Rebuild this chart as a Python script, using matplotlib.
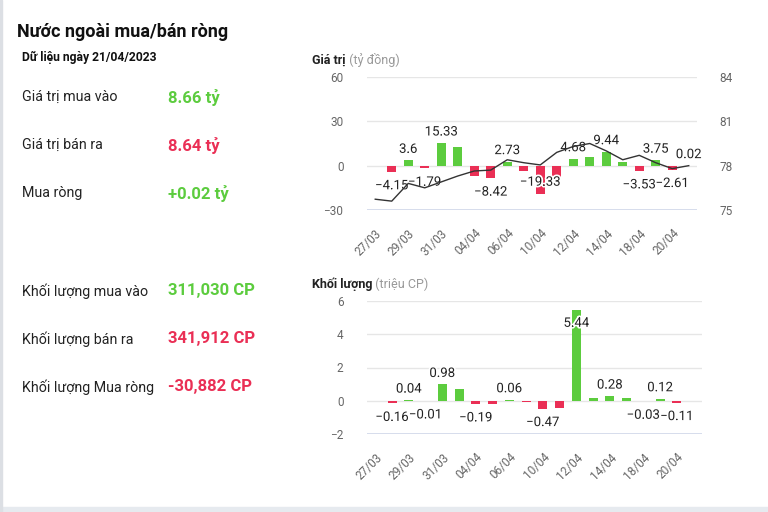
import matplotlib
matplotlib.use('Agg')
import matplotlib.pyplot as plt
import matplotlib.patheffects as pe
from matplotlib.patches import Rectangle

plt.rcParams['font.family'] = ['Roboto', 'DejaVu Sans']

# data
dates = ['27/03', '28/03', '29/03', '30/03', '31/03', '03/04', '04/04', '05/04',
         '06/04', '07/04', '10/04', '11/04', '12/04', '13/04', '14/04', '17/04',
         '18/04', '19/04', '20/04', '21/04']
value_net = [0, -4.15, 3.6, -1.79, 15.33, 12.6, -7.0, -8.42, 2.73, -3.8,
             -19.33, -12.0, 4.68, 5.8, 9.44, 2.7, -3.53, 3.75, -2.61, 0.02]
price = [75.73, 75.6, 76.8, 76.5, 76.9, 77.3, 77.64, 77.7, 78.4, 78.2,
         78.05, 78.9, 79.3, 79.5, 79.0, 78.4, 78.7, 78.2, 77.8, 78.0]
volume_net = [0, -0.16, 0.04, -0.01, 0.98, 0.73, -0.19, -0.2, 0.06, -0.06,
              -0.47, -0.41, 5.44, 0.19, 0.28, 0.15, -0.03, 0.12, -0.11, -0.03]
value_labels = [1, 2, 3, 4, 7, 8, 10, 12, 14, 16, 17, 18, 19]
volume_labels = [1, 2, 3, 4, 6, 8, 10, 12, 14, 16, 17, 18]

summary_rows = [
    ('Giá trị mua vào', '8.66 tỷ', 'g', 97),
    ('Giá trị bán ra', '8.64 tỷ', 'r', 145),
    ('Mua ròng', '+0.02 tỷ', 'g', 193),
    ('Khối lượng mua vào', '311,030 CP', 'g', 291),
    ('Khối lượng bán ra', '341,912 CP', 'r', 339),
    ('Khối lượng Mua ròng', '-30,882 CP', 'r', 387),
]

GREEN = '#5ccc3e'
RED = '#ea2f55'
W, H = 768, 512


def px(x, y):
    return x / W, 1 - y / H


def fmt(v):
    s = ('%.2f' % v).rstrip('0').rstrip('.')
    return s.replace('-', '\u2212')


def bar_panel(ax, vals, label_idx, ylim, yticks):
    x = list(range(len(vals)))
    colors = [GREEN if v >= 0 else RED for v in vals]
    ax.bar(x, vals, width=0.55, color=colors, zorder=2)
    ax.set_xlim(-0.5, len(vals) - 0.5)
    ax.set_ylim(*ylim)
    ax.set_yticks(yticks)
    ax.set_yticklabels([str(t).replace('-', '\u2212') for t in yticks])
    ax.grid(axis='y', color='#e6e6e6', lw=1, zorder=0)
    ax.axhline(ylim[0], color='#ccd6eb', lw=1.2, zorder=1)
    for s in ax.spines.values():
        s.set_visible(False)
    ax.tick_params(axis='both', length=0, labelsize=8.5, labelcolor='#666666')
    ax.tick_params(axis='y', pad=17)
    ax.set_xticks(x[::2])
    ax.set_xticklabels(dates[::2], rotation=45, ha='right',
                       rotation_mode='anchor')
    ax.tick_params(axis='x', pad=12)
    # data labels, flipped inside when they would leave the plot
    fig = ax.figure
    fig.canvas.draw()
    for i in label_idx:
        v = vals[i]
        yb = ax.transData.transform((i, v))[1]
        ytop = ax.transData.transform((i, ylim[1]))[1]
        ybot = ax.transData.transform((i, ylim[0]))[1]
        off = 11 if v >= 0 else -14
        if v >= 0 and yb + off + 6 > ytop:
            off = -13
        if v < 0 and yb + off - 6 < ybot:
            off = 12
        ax.annotate(fmt(v), (i, v), xytext=(0, off * 72 / 100),
                    textcoords='offset points', ha='center', va='center',
                    fontsize=9.5, color='#222222', zorder=5,
                    path_effects=[pe.withStroke(linewidth=2.5, foreground='white')])


fig = plt.figure(figsize=(7.68, 5.12), dpi=100)
fig.patch.set_facecolor('white')
fig.patches.append(Rectangle((0, 0), 1, 5 / H, transform=fig.transFigure,
                             color='#e6eaef', zorder=0))
fig.patches.append(Rectangle((0, 0), 1.5 / W, 1, transform=fig.transFigure,
                             color='#dcdfe4', zorder=0))

# left summary
fig.text(*px(17, 32), 'Nước ngoài mua/bán ròng', fontsize=13, fontweight='bold',
         color='#111111', va='center')
fig.text(*px(22, 57), 'Dữ liệu ngày 21/04/2023', fontsize=8.7, fontweight='bold',
         color='#111111', va='center')
for name, val, c, y in summary_rows:
    fig.text(*px(22, y), name, fontsize=10.3, color='#222222', va='center')
    fig.text(*px(168, y), val, fontsize=12, fontweight='bold',
             color=GREEN if c == 'g' else RED, va='center')

# value chart
ax1 = fig.add_axes([367 / W, 1 - 210 / H, 330 / W, 133 / H])
bar_panel(ax1, value_net, value_labels, (-30, 60), [-30, 0, 30, 60])
ax1r = ax1.twinx()
ax1r.plot(range(len(price)), price, color='#333333', lw=1, zorder=3)
ax1r.set_ylim(75, 84)
ax1r.set_yticks([75, 78, 81, 84])
for s in ax1r.spines.values():
    s.set_visible(False)
ax1r.tick_params(axis='y', length=0, labelsize=8.5, labelcolor='#666666', pad=16)
t1 = fig.text(*px(312, 60), 'Giá trị', fontsize=9, fontweight='bold',
              color='#222222', va='center')
fig.canvas.draw()
ax1.annotate(' (tỷ đồng)', xy=(1, 0.5), xycoords=t1, va='center', fontsize=9,
             color='#999999', annotation_clip=False)

# volume chart
ax2 = fig.add_axes([367 / W, 1 - 434 / H, 335 / W, 133 / H])
bar_panel(ax2, volume_net, volume_labels, (-2, 6), [-2, 0, 2, 4, 6])
t2 = fig.text(*px(312, 284), 'Khối lượng', fontsize=9, fontweight='bold',
              color='#222222', va='center')
fig.canvas.draw()
ax2.annotate(' (triệu CP)', xy=(1, 0.5), xycoords=t2, va='center', fontsize=9,
             color='#999999', annotation_clip=False)

fig.savefig('out.png', dpi=100)
